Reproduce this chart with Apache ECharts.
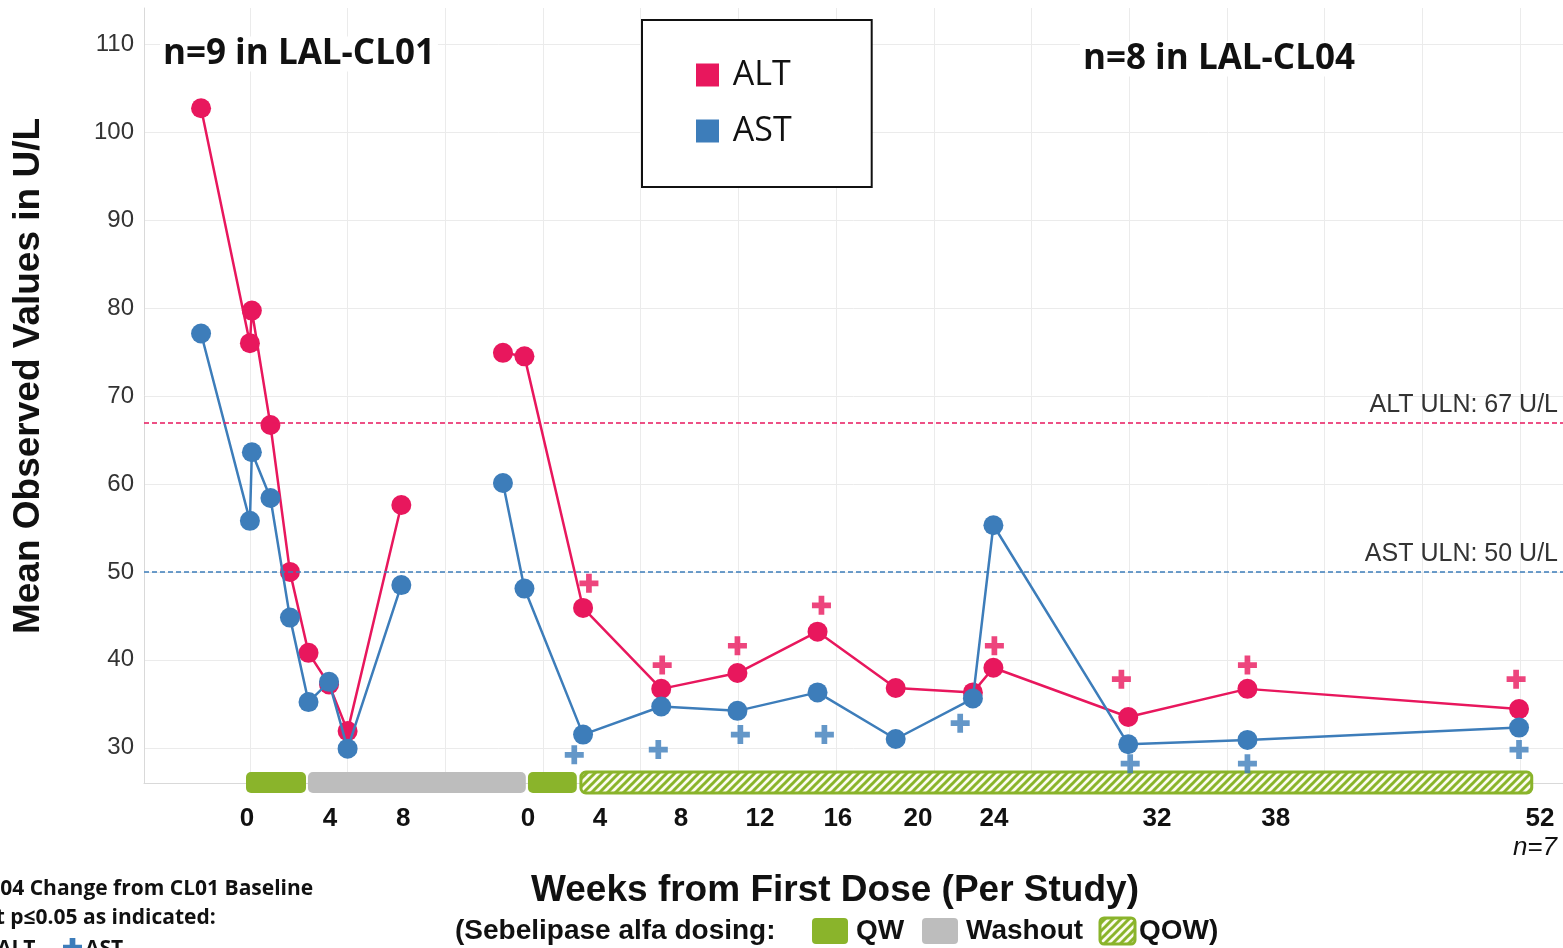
<!DOCTYPE html>
<html>
<head>
<meta charset="utf-8">
<title>Mean ALT / AST, LAL-CL01 and LAL-CL04</title>
<script src="https://cdn.jsdelivr.net/npm/echarts@6.0.0/dist/echarts.min.js"></script>
<style>
  html, body { margin: 0; padding: 0; background: #fff; }
  #chart { width: 1563px; height: 948px; }
</style>
</head>
<body>
<div id="chart"></div>
<script>
// ---- data (study weeks, mean U/L) ----
// LAL-CL01
const cl01Weeks = [-2.5, 0, 0.1, 1.05, 2.05, 3.0, 4.05, 5.0, 7.75];
const cl01ALT = [102.7, 76.0, 79.7, 66.7, 50.0, 40.8, 37.2, 31.9, 57.6];
const cl01AST = [77.1, 55.8, 63.6, 58.4, 44.8, 35.2, 37.5, 29.9, 48.5];

// LAL-CL04
const cl04Weeks = [-1.3, -0.2, 2.8, 6.8, 10.7, 14.8, 18.8, 22.75, 23.8, 30.7, 36.8, 50.7];
const cl04ALT = [74.9, 74.5, 45.9, 36.7, 38.5, 43.2, 36.8, 36.3, 39.1, 33.5, 36.7, 34.4];
const cl04AST = [60.1, 48.1, 31.5, 34.7, 34.2, 36.3, 31.0, 35.6, 55.3, 30.4, 30.9, 32.3];

// p<=0.05 markers (CL04 week, marker height)
const altSigWeeks = [3.1, 6.85, 10.7, 15.0, 23.85, 30.35, 36.8, 50.55];
const altSigY = [48.7, 39.4, 41.6, 46.2, 41.6, 37.8, 39.4, 37.8];
const astSigWeeks = [2.35, 6.65, 10.85, 15.15, 22.1, 30.8, 36.8, 50.7];
const astSigY = [29.2, 29.8, 31.5, 31.5, 32.8, 28.2, 28.2, 29.8];

// upper limits of normal
const ulnNames = ['ALT', 'AST'];
const ulnValues = [67, 50];

// dosing periods on the shared timeline
const dosingStart = [-0.2, 2.97, 14.23, 16.94];
const dosingEnd = [2.87, 14.12, 16.73, 65.6];
const dosingType = ['QW', 'Washout', 'QW', 'QOW'];

// x tick labels on the shared timeline
const tickPos = [-0.15, 4.1, 7.85, 14.23, 17.91, 22.06, 26.1, 30.09, 34.19, 38.08, 46.42, 52.5, 66.02];
const tickText = ['0', '4', '8', '0', '4', '8', '12', '16', '20', '24', '32', '38', '52'];
const yTicks = [30, 40, 50, 60, 70, 80, 90, 100, 110];
const gridWeeks = [0, 5, 10, 15, 20, 25, 30, 35, 40, 45, 50, 55, 60, 65];

// ---- layout ----
const CL01_OFFSET = 0;      // where each study's week 0 sits on the shared timeline
const CL04_OFFSET = 14.25;
const X_MIN = -5.42, X_MAX = 67.2;
const Y_MIN = 26, Y_MAX = 114.1;

const ALT_COLOR = '#E8175D';
const AST_COLOR = '#3D7DBA';
const GREEN = '#8AB42B';
const GRAY = '#BDBDBD';
const ARIAL = '"Liberation Sans", Arial, sans-serif';
const CALIBRI = '"Open Sans", "Noto Sans", sans-serif';
const PLUS = 'M7,0H13V7H20V13H13V20H7V13H0V7H7Z';
const PLUS_PTS = [[7, 0], [13, 0], [13, 7], [20, 7], [20, 13], [13, 13], [13, 20], [7, 20], [7, 13], [0, 13], [0, 7], [7, 7]]
  .map(p => [p[0] * 0.95, p[1] * 0.95]);

function toPoints(weeks, values, offset) {
  return weeks.map((w, i) => [w + offset, values[i]]);
}

function makeHatch() {
  const c = document.createElement('canvas');
  c.width = 8; c.height = 8;
  const ctx = c.getContext('2d');
  ctx.fillStyle = '#fbfbee';
  ctx.fillRect(0, 0, 8, 8);
  ctx.strokeStyle = GREEN;
  ctx.lineWidth = 3;
  ctx.beginPath();
  ctx.moveTo(-2, 10); ctx.lineTo(10, -2);
  ctx.moveTo(-6, 6); ctx.lineTo(6, -6);
  ctx.moveTo(2, 14); ctx.lineTo(14, 2);
  ctx.stroke();
  return c;
}
const hatch = makeHatch();

function lineSeries(name, color, data, z, markLine) {
  const s = {
    name: name,
    type: 'line',
    data: data,
    z: z,
    symbol: 'circle',
    symbolSize: 20,
    lineStyle: {color: color, width: 2.5},
    itemStyle: {color: color},
    emphasis: {disabled: true}
  };
  if (markLine) s.markLine = markLine;
  return s;
}

function ulnLine(i, color) {
  return {
    silent: true,
    symbol: ['none', 'none'],
    lineStyle: {color: color, type: [5, 3], width: 1.5},
    label: {
      position: 'insideEndTop',
      formatter: ulnNames[i] + ' ULN: ' + ulnValues[i] + ' U/L',
      fontFamily: ARIAL, fontSize: 25, color: '#333'
    },
    data: [{yAxis: ulnValues[i]}]
  };
}

// plain text element for the graphic layer
function label(text, x, y, font, extra) {
  return Object.assign({
    type: 'text', x: x, y: y, z: 20,
    style: Object.assign({text: text, fill: '#111', align: 'left', verticalAlign: 'middle'}, font)
  }, extra || {});
}

const chart = echarts.init(document.getElementById('chart'));

const option = {
  animation: false,
  backgroundColor: '#fff',
  grid: {left: 144, right: 0, top: 8, bottom: 165},
  legend: {
    data: ['ALT', 'AST'],
    orient: 'vertical',
    left: 642, top: 20,
    padding: [38, 80, 39, 54],
    backgroundColor: '#fff',
    borderColor: '#111', borderWidth: 2,
    icon: 'rect', itemWidth: 23, itemHeight: 23, itemGap: 22,
    formatter: name => ' ' + name,
    textStyle: {fontFamily: CALIBRI, fontSize: 34, color: '#111'},
    selectedMode: false
  },
  xAxis: {
    type: 'value',
    min: X_MIN, max: X_MAX,
    axisLine: {onZero: false, lineStyle: {color: '#d9d9d9'}},
    axisTick: {show: false, customValues: gridWeeks},
    splitLine: {show: true, lineStyle: {color: '#ebebeb'}},
    axisLabel: {
      customValues: tickPos,
      margin: 23,
      fontFamily: ARIAL, fontSize: 26, fontWeight: 'bold', color: '#111',
      formatter: function (val) {
        let best = 0;
        tickPos.forEach((p, i) => { if (Math.abs(p - val) < Math.abs(tickPos[best] - val)) best = i; });
        return tickText[best];
      }
    }
  },
  yAxis: {
    type: 'value',
    min: Y_MIN, max: Y_MAX,
    axisLine: {show: true, onZero: false, lineStyle: {color: '#d9d9d9'}},
    axisTick: {show: false, customValues: yTicks},
    splitLine: {show: true, lineStyle: {color: '#ebebeb'}},
    axisLabel: {customValues: yTicks, margin: 10, fontFamily: ARIAL, fontSize: 24, color: '#333'}
  },
  series: [
    {
      name: 'dosing',
      type: 'custom',
      clip: false,
      z: 5,
      data: dosingStart.map((s, i) => [s, dosingEnd[i], Y_MIN]),
      encode: {x: [0, 1], y: 2},
      renderItem: function (params, api) {
        const a = api.coord([api.value(0), api.value(2)]);
        const b = api.coord([api.value(1), api.value(2)]);
        const t = dosingType[params.dataIndex];
        let style;
        if (t === 'QOW') style = {fill: {image: hatch, repeat: 'repeat'}, stroke: GREEN, lineWidth: 3};
        else style = {fill: t === 'QW' ? GREEN : GRAY};
        return {
          type: 'rect',
          shape: {x: a[0], y: a[1] - 11, width: b[0] - a[0], height: 21, r: 5},
          style: style
        };
      }
    },
    lineSeries('ALT', ALT_COLOR, toPoints(cl01Weeks, cl01ALT, CL01_OFFSET), 3, ulnLine(0, ALT_COLOR)),
    lineSeries('ALT', ALT_COLOR, toPoints(cl04Weeks, cl04ALT, CL04_OFFSET), 3),
    lineSeries('AST', AST_COLOR, toPoints(cl01Weeks, cl01AST, CL01_OFFSET), 4, ulnLine(1, AST_COLOR)),
    lineSeries('AST', AST_COLOR, toPoints(cl04Weeks, cl04AST, CL04_OFFSET), 4),
    {
      name: 'ALT p<=0.05', type: 'scatter', z: 6,
      symbol: 'path://' + PLUS, symbolSize: 19,
      itemStyle: {color: ALT_COLOR},
      data: toPoints(altSigWeeks, altSigY, CL04_OFFSET)
    },
    {
      name: 'AST p<=0.05', type: 'scatter', z: 6,
      symbol: 'path://' + PLUS, symbolSize: 19,
      itemStyle: {color: AST_COLOR},
      data: toPoints(astSigWeeks, astSigY, CL04_OFFSET)
    }
  ],
  graphic: [
    // study headers (white box hides the grid behind them)
    label('n=9 in LAL-CL01', 160, 54, {fontFamily: CALIBRI, fontSize: 35, fontWeight: 'bold', backgroundColor: '#fff', padding: [0, 3]}),
    label('n=8 in LAL-CL04', 1080, 59, {fontFamily: CALIBRI, fontSize: 35, fontWeight: 'bold', backgroundColor: '#fff', padding: [0, 3]}),
    // y axis title
    label('Mean Observed Values in U/L', 29, 376, {fontFamily: ARIAL, fontSize: 37, fontWeight: 'bold', align: 'center'}, {rotation: Math.PI / 2}),
    // x axis title + dosing key
    label('Weeks from First Dose (Per Study)', 835, 891, {fontFamily: ARIAL, fontSize: 37, fontWeight: 'bold', align: 'center'}),
    label('(Sebelipase alfa dosing:', 455, 931, {fontFamily: ARIAL, fontSize: 28, fontWeight: 'bold'}),
    {type: 'rect', shape: {x: 812, y: 918, width: 36, height: 26, r: 4}, style: {fill: GREEN}},
    label('QW', 856, 931, {fontFamily: ARIAL, fontSize: 28, fontWeight: 'bold'}),
    {type: 'rect', shape: {x: 922, y: 918, width: 36, height: 26, r: 4}, style: {fill: GRAY}},
    label('Washout', 966, 931, {fontFamily: ARIAL, fontSize: 28, fontWeight: 'bold'}),
    {type: 'rect', shape: {x: 1100, y: 918, width: 35, height: 26, r: 4}, style: {fill: {image: hatch, repeat: 'repeat'}, stroke: GREEN, lineWidth: 3}},
    label('QOW)', 1139, 931, {fontFamily: ARIAL, fontSize: 28, fontWeight: 'bold'}),
    // n at week 52
    label('n=7', 1557, 848, {fontFamily: ARIAL, fontSize: 26, fontStyle: 'italic', align: 'right'}),
    // significance footnote (runs off the left edge)
    label('CL04 Change from CL01 Baseline', -25, 889, {fontFamily: CALIBRI, fontSize: 21, fontWeight: 'bold'}),
    label('at p\u22640.05 as indicated:', -17, 918, {fontFamily: CALIBRI, fontSize: 21, fontWeight: 'bold'}),
    label('ALT', -3, 949, {fontFamily: CALIBRI, fontSize: 21, fontWeight: 'bold'}),
    {type: 'polygon', x: 63, y: 938, shape: {points: PLUS_PTS}, style: {fill: AST_COLOR}},
    label('AST', 85, 949, {fontFamily: CALIBRI, fontSize: 21, fontWeight: 'bold'})
  ]
};

chart.setOption(option);
</script>
</body>
</html>
